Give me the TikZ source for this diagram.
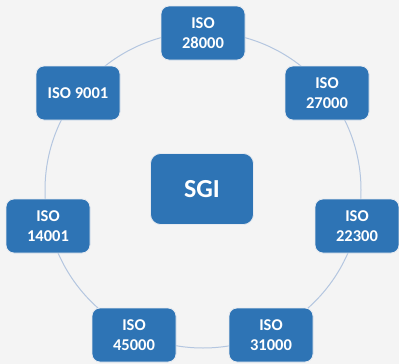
\documentclass[tikz,border=0pt]{standalone}
\usepackage{fontspec}
\setmainfont{Carlito}
\definecolor{bg}{HTML}{F4F4F4}
\definecolor{boxblue}{HTML}{2E74B5}
\definecolor{ringcol}{HTML}{B4C6E0}
\definecolor{edgecol}{HTML}{E6EAF0}
\begin{document}
\begin{tikzpicture}[x=1pt,y=-1pt,
  isobox/.style={draw=edgecol, line width=0.8pt, fill=boxblue, rounded corners=8pt,
    minimum width=84pt, minimum height=54pt, inner sep=0pt, align=center,
    text=white, font=\fontsize{16.5}{19.5}\selectfont\bfseries},
  sgibox/.style={isobox, minimum width=103pt, minimum height=71pt, rounded corners=10pt,
    font=\fontsize{26}{30}\selectfont\bfseries}]
\fill[bg] (0,0) rectangle (399,364);
\useasboundingbox (0,0) rectangle (399,364);
\coordinate (c) at (203,190);
\draw[ringcol, line width=1pt] (c) circle[radius=158];
\node[sgibox] (sgi) at (202,189) {SGI};
\node[isobox] (a) at (203,33) {ISO\\28000};
\node[isobox] (b) at (327,93) {ISO\\27000};
\node[isobox] (d) at (357,226) {ISO\\22300};
\node[isobox] (e) at (271,335) {ISO\\31000};
\node[isobox] (f) at (134,335) {ISO\\45000};
\node[isobox] (g) at (48,226) {ISO\\14001};
\node[isobox] (h) at (78,93) {ISO 9001};
\end{tikzpicture}
\end{document}
